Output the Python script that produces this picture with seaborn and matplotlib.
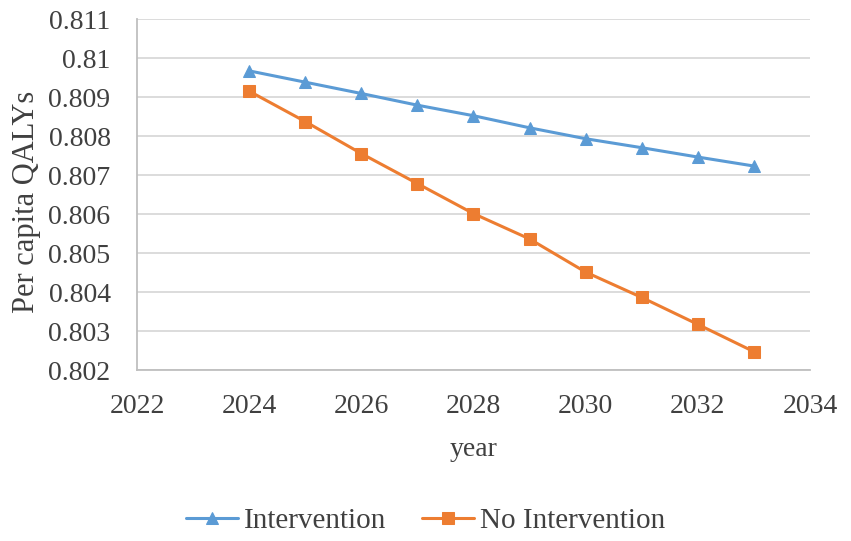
import matplotlib
matplotlib.use("Agg")
import matplotlib.pyplot as plt
import seaborn as sns
import pandas as pd

years = [2024, 2025, 2026, 2027, 2028, 2029, 2030, 2031, 2032, 2033]
intervention = [0.80967, 0.80938, 0.80909, 0.80879, 0.80852, 0.80821, 0.80793, 0.80770, 0.80746, 0.80723]
no_intervention = [0.80915, 0.80837, 0.80755, 0.80678, 0.80601, 0.80536, 0.80451, 0.80386, 0.80317, 0.80247]
series_names = ["Intervention", "No Intervention"]
colors = ["#5B9BD5", "#ED7D31"]
markers = ["^", "s"]
y_ticks = [0.802, 0.803, 0.804, 0.805, 0.806, 0.807, 0.808, 0.809, 0.81, 0.811]
y_tick_labels = ["0.802", "0.803", "0.804", "0.805", "0.806", "0.807", "0.808", "0.809", "0.81", "0.811"]
x_ticks = [2022, 2024, 2026, 2028, 2030, 2032, 2034]

df = pd.DataFrame({
    "year": years * 2,
    "value": intervention + no_intervention,
    "series": [series_names[0]] * len(years) + [series_names[1]] * len(years),
})

sns.set_theme(style="white")
plt.rcParams["font.family"] = ["Liberation Serif", "DejaVu Serif"]

fig = plt.figure(figsize=(8.51, 5.41), dpi=100)
ax = fig.add_axes([137 / 851, 1 - 370 / 541, (810 - 137) / 851, (370 - 19) / 541])

for name, c, m in zip(series_names, colors, markers):
    sub = df[df["series"] == name]
    sns.lineplot(data=sub, x="year", y="value", ax=ax, color=c, marker=m,
                 markersize=9, markeredgecolor=c, linewidth=2.2, label=name,
                 legend=False)

ax.set_xlim(2022, 2034)
ax.set_ylim(0.802, 0.811)
ax.set_xticks(x_ticks)
ax.set_xticklabels([str(t) for t in x_ticks])
ax.set_yticks(y_ticks)
ax.set_yticklabels(y_tick_labels)
ax.tick_params(axis="both", labelsize=20, colors="#404040", length=0)
ax.tick_params(axis="y", pad=19)
ax.tick_params(axis="x", pad=17)
ax.yaxis.grid(True, color="#D9D9D9", linewidth=1.3)
ax.xaxis.grid(False)
for s in ["top", "right"]:
    ax.spines[s].set_visible(False)
for s in ["left", "bottom"]:
    ax.spines[s].set_color("#BFBFBF")
    ax.spines[s].set_linewidth(1.3)
ax.set_xlabel("year", fontsize=20, color="#404040")
ax.set_ylabel("Per capita QALYs", fontsize=22, color="#404040")
ax.xaxis.set_label_coords(0.5, -0.19)
ax.yaxis.set_label_coords(-0.143, 0.48)

handles, labels = ax.get_legend_handles_labels()
fig.legend(handles, labels, loc="center", bbox_to_anchor=(0.5, 1 - 521 / 541),
           ncol=2, frameon=False, fontsize=21, handlelength=1.8,
           columnspacing=1.2, handletextpad=0.2, labelcolor="#404040")

fig.savefig("out.png", dpi=100)
